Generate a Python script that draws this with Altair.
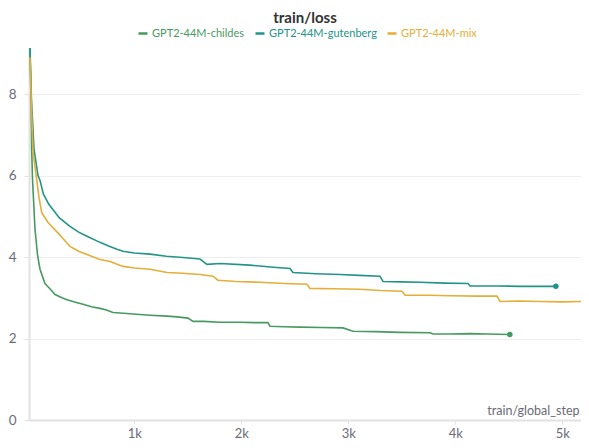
import altair as alt
import pandas as pd

names = ["GPT2-44M-childes", "GPT2-44M-gutenberg", "GPT2-44M-mix"]
colors = ["#479A5F", "#229487", "#E5AE38"]

childes_step = [25, 35, 41, 49, 72, 97, 119, 165, 212, 259, 324, 371, 450, 521, 600, 679, 740, 801, 900, 988, 1150, 1306, 1400,
                1502, 1549, 1650, 1801, 1988, 2120, 2250, 2268, 2400, 2549, 2750, 2951, 3044, 3250, 3483, 3764, 3792, 3950,
                4138, 4300, 4510]
childes_loss = [9.13, 7.86, 6.64, 5.90, 4.68, 4.02, 3.70, 3.35, 3.22, 3.08, 3.00, 2.95, 2.89, 2.84, 2.78, 2.74, 2.70, 2.64, 2.62,
                2.60, 2.57, 2.55, 2.53, 2.50, 2.42, 2.42, 2.40, 2.40, 2.39, 2.39, 2.30, 2.29, 2.28, 2.27, 2.26, 2.18, 2.17, 2.15,
                2.14, 2.11, 2.11, 2.12, 2.11, 2.10]

gutenberg_step = [25, 39, 63, 100, 119, 150, 200, 300, 399, 480, 558, 679, 760, 838, 895, 1000, 1147, 1300, 1455, 1614, 1679,
                  1801, 2081, 2300, 2455, 2483, 2700, 2923, 3100, 3296, 3324, 3500, 3670, 3900, 4119, 4138, 4400, 4605, 4940]
gutenberg_loss = [9.13, 7.86, 6.64, 6.00, 5.88, 5.55, 5.30, 4.96, 4.75, 4.61, 4.51, 4.36, 4.27, 4.19, 4.14, 4.10, 4.07, 4.02,
                  3.99, 3.95, 3.82, 3.84, 3.80, 3.75, 3.72, 3.62, 3.59, 3.57, 3.55, 3.53, 3.40, 3.39, 3.38, 3.36, 3.35, 3.29,
                  3.29, 3.28, 3.28]

mix_step = [25, 40, 53, 88, 110, 135, 196, 290, 352, 399, 480, 558, 679, 773, 895, 1000, 1147, 1306, 1450, 1614, 1735, 1782,
            1950, 2175, 2400, 2614, 2642, 2850, 3109, 3300, 3502, 3531, 3750, 3951, 4200, 4390, 4418, 4600, 4792, 5000, 5249, 5400]
mix_loss = [8.90, 7.60, 6.60, 5.90, 5.45, 5.09, 4.84, 4.58, 4.40, 4.26, 4.14, 4.06, 3.94, 3.89, 3.77, 3.73, 3.70, 3.62, 3.60,
            3.57, 3.53, 3.43, 3.40, 3.38, 3.35, 3.33, 3.23, 3.22, 3.21, 3.18, 3.16, 3.06, 3.06, 3.05, 3.04, 3.04, 2.91, 2.92,
            2.91, 2.90, 2.91, 2.90]

frames = []
for n, s, v in [(names[0], childes_step, childes_loss),
                (names[1], gutenberg_step, gutenberg_loss),
                (names[2], mix_step, mix_loss)]:
    frames.append(pd.DataFrame({"run": n, "step": s, "loss": v}))
df = pd.concat(frames, ignore_index=True)
ends = pd.concat([frames[0].tail(1), frames[1].tail(1)], ignore_index=True)

FONT = "Lato"
GRAY = "#6b6b76"

color_expr = ("datum.value == '%s' ? '%s' : datum.value == '%s' ? '%s' : '%s'"
              % (names[0], colors[0], names[1], colors[1], colors[2]))

color = alt.Color(
    "run:N",
    scale=alt.Scale(domain=names, range=colors),
    legend=alt.Legend(
        title=None,
        orient="none",
        direction="horizontal",
        legendX=108,
        legendY=-20.5,
        symbolType="stroke",
        symbolSize=81,
        symbolStrokeWidth=2.5,
        labelFont=FONT,
        labelFontSize=11,
        labelColor=alt.ExprRef(color_expr),
        labelOffset=3,
        columnPadding=5,
    ),
)

x = alt.X(
    "step:Q",
    scale=alt.Scale(domain=[16, 5175], nice=False, zero=False),
    axis=alt.Axis(
        values=[1000, 2000, 3000, 4000, 5000],
        labelExpr="datum.value / 1000 + 'k'",
        grid=False,
        title="train/global_step",
        titleAnchor="end",
        titleAlign="right",
        titleX=550,
        titleY=-6,
        titleBaseline="alphabetic",
        titleFont=FONT,
        titleFontSize=12.5,
        titleFontWeight="normal",
        titleColor=GRAY,
        labelFont=FONT,
        labelFontSize=13,
        labelColor=GRAY,
        labelPadding=3,
        tickSize=4,
        tickColor="#e2e2e2",
        domainColor="#e2e2e2",
        domainWidth=2,
    ),
)

y = alt.Y(
    "loss:Q",
    scale=alt.Scale(domain=[0, 9.13], nice=False, zero=True),
    axis=alt.Axis(
        values=[0, 2, 4, 6, 8],
        title=None,
        grid=True,
        gridColor="#eeeeee",
        labelFont=FONT,
        labelFontSize=13.5,
        labelColor=GRAY,
        labelPadding=8,
        tickSize=5,
        tickColor="#e2e2e2",
        domainColor="#e2e2e2",
        domainWidth=2,
    ),
)

lines = alt.Chart(df).mark_line(strokeWidth=1.6, clip=True).encode(
    x=x, y=y, color=color, detail="run:N", order="step:Q"
)
dots = alt.Chart(ends).mark_circle(size=30, opacity=1, clip=True).encode(
    x="step:Q", y="loss:Q", color=alt.Color("run:N", scale=alt.Scale(domain=names, range=colors))
)

chart = (
    alt.layer(lines, dots)
    .properties(
        width=552,
        height=372,
        autosize=alt.AutoSizeParams(type="none"),
        padding={"left": 21, "top": 40, "right": 0, "bottom": 20},
        title=alt.Title(
            "train/loss",
            font=FONT,
            fontSize=15,
            fontWeight="bold",
            color="#333333",
            anchor="middle",
            offset=4,
            dy=2,
        ),
    )
    .configure_view(stroke=None)
)

chart.save("out.html", embed_options={"renderer": "svg", "actions": False})
